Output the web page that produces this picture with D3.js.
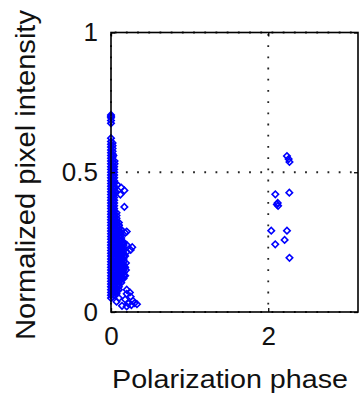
<!DOCTYPE html>
<html>
<head>
<meta charset="utf-8">
<script src="https://cdn.jsdelivr.net/npm/d3@7"></script>
<style>
  body { margin: 0; background: #fff; }
  svg { display: block; font-family: "Liberation Sans", Arial, sans-serif; }
</style>
</head>
<body>
<svg id="chart" width="359" height="393"></svg>
<script>
// axis ticks
const xTicks = [0, 2];
const yTicks = [0, 0.5, 1];
const xLabel = 'Polarization phase';
const yLabel = 'Normalized pixel intensity';

// pixels with phase close to 0: the dense column, read as vertical runs
const columnPhase = [0, 0.02, 0.04, 0.07, 0.1, 0.13, 0.16];
const columnIntensity = [
  [0.705, 0.7, 0.695, 0.685, 0.675, 0.622,
   0.61, 0.6, 0.59, 0.58, 0.57, 0.56, 0.55, 0.54, 0.53, 0.52, 0.51, 0.5, 0.49, 0.48, 0.47, 0.46,
   0.45, 0.44, 0.43, 0.42, 0.41, 0.4, 0.39, 0.38, 0.37, 0.36, 0.35, 0.34, 0.33, 0.32, 0.31, 0.3,
   0.29, 0.28, 0.27, 0.26, 0.25, 0.24, 0.23, 0.22, 0.21, 0.2, 0.19, 0.18, 0.17, 0.16, 0.15, 0.14,
   0.13, 0.12, 0.11, 0.1, 0.09, 0.08, 0.07, 0.06, 0.05],
  [0.605, 0.595, 0.585, 0.575, 0.565, 0.555, 0.545, 0.535, 0.525, 0.515, 0.505, 0.495, 0.485,
   0.475, 0.465, 0.455, 0.445, 0.435, 0.425, 0.415, 0.405, 0.395, 0.385, 0.375, 0.365, 0.355,
   0.345, 0.335, 0.325, 0.315, 0.305, 0.295, 0.285, 0.275, 0.265, 0.255, 0.245, 0.235, 0.225,
   0.215, 0.205, 0.195, 0.185, 0.175, 0.165, 0.155, 0.145, 0.135, 0.125, 0.115, 0.105, 0.095,
   0.085, 0.075, 0.065, 0.055],
  [0.52, 0.51, 0.5, 0.49, 0.48, 0.47, 0.46, 0.45, 0.44, 0.43, 0.42, 0.41, 0.4, 0.39, 0.38, 0.37,
   0.36, 0.35, 0.34, 0.33, 0.32, 0.31, 0.3, 0.29, 0.28, 0.27, 0.26, 0.25, 0.24, 0.23, 0.22, 0.21,
   0.2, 0.19, 0.18, 0.17, 0.16, 0.15, 0.14, 0.13, 0.12, 0.11, 0.1, 0.09, 0.08, 0.07, 0.06],
  [0.355, 0.345, 0.335, 0.325, 0.315, 0.305, 0.295, 0.285, 0.275, 0.265, 0.255, 0.245, 0.235,
   0.225, 0.215, 0.205, 0.195, 0.185, 0.175, 0.165, 0.155, 0.145, 0.135, 0.125, 0.115, 0.105,
   0.095, 0.085, 0.075, 0.065],
  [0.32, 0.31, 0.3, 0.29, 0.28, 0.27, 0.26, 0.25, 0.24, 0.23, 0.22, 0.21, 0.2, 0.19, 0.18, 0.17,
   0.16, 0.15, 0.14, 0.13, 0.12, 0.11, 0.1, 0.09, 0.08],
  [0.295, 0.285, 0.275, 0.265, 0.255, 0.245, 0.235, 0.225, 0.215, 0.205, 0.195, 0.185, 0.175,
   0.165, 0.155, 0.145, 0.135, 0.125, 0.115, 0.105],
  [0.25, 0.24, 0.23, 0.22, 0.21, 0.2, 0.19, 0.18, 0.17, 0.16, 0.15, 0.14, 0.13, 0.12]
];

// stray pixels along the edge of the column
const edgePhase = [
  0.03, 0.045, 0.045, 0.03,
  0.08, 0.13, 0.17, 0.12, 0.06, 0.17, 0.1,
  0.2, 0.18, 0.16, 0.2, 0.27, 0.25, 0.2,
  0.18, 0.19, 0.18, 0.19, 0.18,
  0.2, 0.24, 0.2, 0.08,
  0.1, 0.18, 0.25, 0.28, 0.22, 0.26, 0.3, 0.33, 0.07, 0.14, 0.2
];
const edgeIntensity = [
  0.56, 0.54, 0.53, 0.51,
  0.455, 0.445, 0.435, 0.42, 0.43, 0.376, 0.31,
  0.288, 0.283, 0.246, 0.24, 0.232, 0.222, 0.215,
  0.2, 0.175, 0.16, 0.15, 0.13,
  0.08, 0.07, 0.065, 0.075,
  0.05, 0.045, 0.055, 0.04, 0.03, 0.025, 0.032, 0.028, 0.037, 0.022, 0.02
];

// pixels with phase around 2.1 - 2.3
const highPhaseX = [2.238, 2.259, 2.27, 2.09, 2.268, 2.11, 2.125, 2.12, 2.038, 2.238, 2.208, 2.089, 2.27];
const highPhaseY = [0.558, 0.547, 0.537, 0.421, 0.427, 0.385, 0.38, 0.39, 0.291, 0.291, 0.258, 0.242, 0.194];

const margin = { left: 111, top: 32.5, right: 1, bottom: 81 };
const svg = d3.select('#chart');
const width = +svg.attr('width');
const height = +svg.attr('height');
const innerW = width - margin.left - margin.right;
const innerH = height - margin.top - margin.bottom;

const x = d3.scaleLinear().domain([0, Math.PI]).range([0, innerW]);
const y = d3.scaleLinear().domain([0, 1]).range([innerH, 0]);

const g = svg.append('g').attr('transform', `translate(${margin.left},${margin.top})`);

// dotted grid
const grid = g.append('g').attr('class', 'grid')
  .attr('stroke', '#222').attr('stroke-width', 1.8).attr('stroke-dasharray', '1.8 9.4');
grid.selectAll('line.gx')
  .data(xTicks)
  .enter().append('line')
  .attr('x1', d => x(d)).attr('x2', d => x(d))
  .attr('y1', 0).attr('y2', innerH)
  .attr('stroke-dashoffset', -1.5);
grid.selectAll('line.gy')
  .data(yTicks)
  .enter().append('line')
  .attr('x1', 0).attr('x2', innerW)
  .attr('y1', d => y(d)).attr('y2', d => y(d))
  .attr('stroke-dashoffset', -3.7);

// scatter points
const points = columnPhase.flatMap((p, i) => columnIntensity[i].map(v => [p, v]))
  .concat(edgePhase.map((d, i) => [d, edgeIntensity[i]]))
  .concat(highPhaseX.map((d, i) => [d, highPhaseY[i]]));
const diamond = d3.symbol(d3.symbolSquare, 21);
g.append('g').attr('class', 'points')
  .selectAll('path')
  .data(points)
  .enter().append('path')
  .attr('d', diamond)
  .attr('transform', d => `translate(${x(d[0])},${y(d[1])}) rotate(45)`)
  .attr('fill', 'none')
  .attr('stroke', '#0000ff')
  .attr('stroke-width', 1.6);

// axes, ticks pointing inwards
const fontSize = 26;
const styleAxis = sel => {
  sel.select('.domain').remove();
  sel.selectAll('.tick line').attr('stroke', '#000').attr('stroke-width', 1.3);
  sel.selectAll('.tick text').attr('fill', '#111').attr('font-size', fontSize)
    .attr('font-family', '"Liberation Sans", Arial, sans-serif');
};

g.append('g').attr('transform', `translate(0,${innerH})`)
  .call(d3.axisBottom(x).tickValues(xTicks).tickFormat(d3.format('')).tickSizeInner(-4).tickSizeOuter(0).tickPadding(14.5))
  .call(styleAxis);
g.append('g')
  .call(d3.axisLeft(y).tickValues(yTicks).tickFormat(d3.format('')).tickSizeInner(-4).tickSizeOuter(0).tickPadding(13))
  .call(styleAxis);
g.append('g')
  .call(d3.axisTop(x).tickValues(xTicks).tickFormat('').tickSizeInner(-4).tickSizeOuter(0))
  .call(styleAxis);
g.append('g').attr('transform', `translate(${innerW},0)`)
  .call(d3.axisRight(y).tickValues(yTicks).tickFormat('').tickSizeInner(-4).tickSizeOuter(0))
  .call(styleAxis);

g.append('rect')
  .attr('width', innerW).attr('height', innerH)
  .attr('fill', 'none').attr('stroke', '#000').attr('stroke-width', 1.6);

// axis titles
svg.append('text')
  .attr('x', 112).attr('y', 388)
  .attr('font-size', fontSize).attr('fill', '#111')
  .attr('textLength', 236).attr('lengthAdjust', 'spacingAndGlyphs')
  .text(xLabel);

svg.append('text')
  .attr('transform', 'translate(35,340) rotate(-90)')
  .attr('font-size', 27).attr('fill', '#111')
  .attr('textLength', 330).attr('lengthAdjust', 'spacingAndGlyphs')
  .text(yLabel);
</script>
</body>
</html>
